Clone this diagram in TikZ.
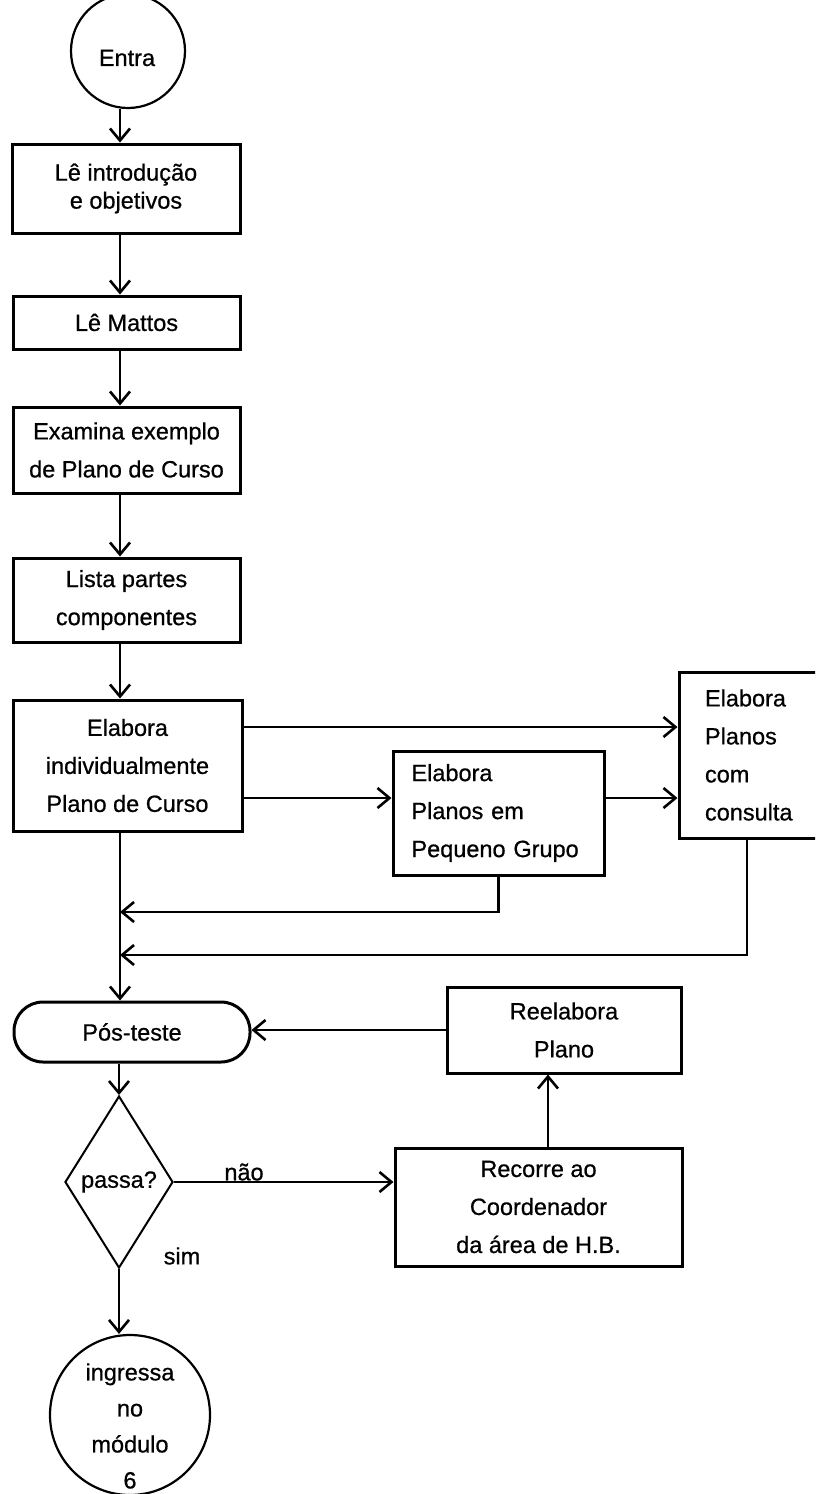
\documentclass[tikz,border=0pt]{standalone}
\usepackage{fontspec}
\setmainfont{Liberation Sans}[FakeBold=0.7]
\usetikzlibrary{arrows.meta,shapes.geometric}
\begin{document}
\begin{tikzpicture}[x=1pt,y=-1pt,
  box/.style={draw,line width=3pt,rectangle,inner sep=0pt,align=center,font=\fontsize{23.5}{38}\selectfont},
  circ/.style={draw,circle,line width=2.2pt,inner sep=0pt},
  arr/.style={line width=2.6pt,-{Straight Barb[length=12pt,width=20pt,line width=2.6pt]}},
  txt/.style={font=\fontsize{23.5}{36}\selectfont,inner sep=0pt,align=center}]
\useasboundingbox (0,0) rectangle (815,1494);
\clip (0,0) rectangle (815,1494);
\coordinate (c) at (120,0);
\coordinate (k) at (747,0);
\coordinate (k2) at (548,0);
\coordinate (r1) at (0,727);
\coordinate (r2) at (0,798);
\coordinate (r3) at (0,912);
\coordinate (r4) at (0,955);

\node[circ, minimum size=114pt] (entra) at (128,51) {};
\node[txt] (entraT) at (127,58) {Entra};
\node[box, minimum width=228pt, minimum height=89pt, font=\fontsize{23.5}{28}\selectfont] (b1) at (126,188.5) {Lê introdução\\e objetivos};
\node[box, minimum width=227pt, minimum height=53pt] (b2) at (126.5,322.5) {Lê Mattos};
\node[box, minimum width=227pt, minimum height=86pt] (b3) at (126.5,450) {Examina exemplo\\de Plano de Curso};
\node[box, minimum width=227pt, minimum height=84pt] (b4) at (126.5,600) {Lista partes\\componentes};
\node[box, minimum width=229pt, minimum height=131pt] (b5) at (127.5,765.5) {Elabora\\individualmente\\Plano de Curso};
\node[box, minimum width=211pt, minimum height=124pt, text width=174pt, inner xsep=18.5pt, align=left] (b6) at (498.5,813) {Elabora\\Planos em\\Pequeno Grupo};
\node[box, minimum width=162pt, minimum height=166pt, text width=110pt, inner xsep=26pt, align=left] (b7) at (760,755) {Elabora\\Planos\\com\\consulta};
\node[box, rounded corners=29pt, minimum width=236pt, minimum height=60pt] (pos) at (132,1032) {Pós-teste};
\node[box, minimum width=234pt, minimum height=86pt] (reel) at (564,1030) {Reelabora\\Plano};
\node[draw, diamond, line width=2pt, minimum width=108pt, minimum height=172pt, inner sep=0pt, font=\fontsize{23.5}{28}\selectfont] (dec) at (119,1182) {passa?};
\node[box, minimum width=287pt, minimum height=118pt] (rec) at (538.5,1207) {Recorre ao\\Coordenador\\da área de H.B.};
\node[circ, minimum size=160pt] (fim) at (130,1415) {};
\node[txt] (fimT) at (130,1426) {ingressa\\no\\módulo\\6};
\node[txt] (nao) at (244,1172) {não};
\node[txt] (sim) at (182,1256) {sim};

\draw[arr] (entra.south -| c) -- (b1.north -| c);
\draw[arr] (b1.south -| c) -- (b2.north -| c);
\draw[arr] (b2.south -| c) -- (b3.north -| c);
\draw[arr] (b3.south -| c) -- (b4.north -| c);
\draw[arr] (b4.south -| c) -- (b5.north -| c);
\draw[arr] (b5.east |- r1) -- (b7.west |- r1);
\draw[arr] (b5.east |- r2) -- (b6.west |- r2);
\draw[arr] (b6.east |- r2) -- (b7.west |- r2);
\draw[arr] (b6.south) -- (b6.south |- r3) -- (c |- r3);
\draw[arr] (b7.south -| k) -- (k |- r4) -- (c |- r4);
\draw[arr] (b5.south -| c) -- (pos.north -| c);
\draw[arr] (reel.west) -- (pos.east |- reel.west);
\draw[arr] (pos.south -| dec.north) -- (dec.north);
\draw[arr] (dec.east) -- (rec.west |- dec.east);
\draw[arr] (rec.north -| k2) -- (reel.south -| k2);
\draw[arr] (dec.south) -- (fim.north -| dec.south);
\end{tikzpicture}
\end{document}
